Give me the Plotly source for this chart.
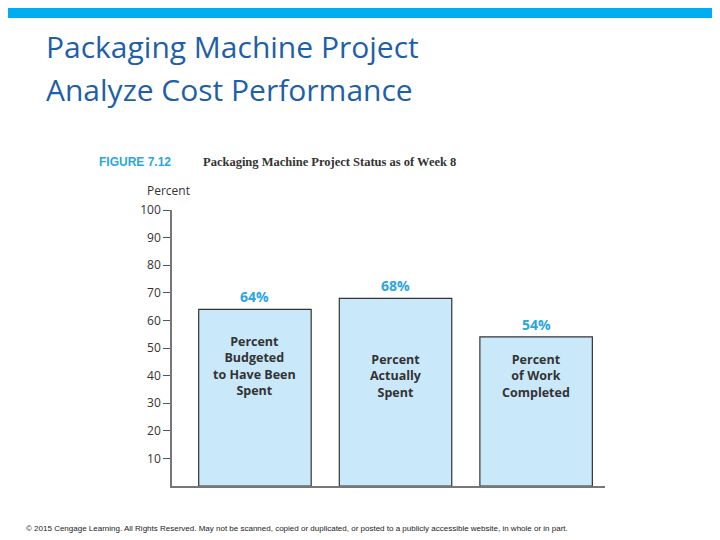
import plotly.graph_objects as go

categories = ["Percent<br>Budgeted<br>to Have Been<br>Spent", "Percent<br>Actually<br>Spent", "Percent<br>of Work<br>Completed"]
values = [64, 68, 54]
value_labels = ["64%", "68%", "54%"]
inner_label_y = [43.5, 40, 40]
tick_vals = [10, 20, 30, 40, 50, 60, 70, 80, 90, 100]

x = [0, 1, 2]
O = 8  # page offset
L, R, T, B = 172 - O, 115 + O, 210 - O, 54 + O
PW, PH = 720 - L - R, 540 - T - B
def px(p): return (p - O - L) / PW
def py(p): return (540 - B - (p - O)) / PH

fig = go.Figure(go.Bar(x=x, y=values, width=0.8,
                       marker=dict(color="#c9e8fa", line=dict(color="#333333", width=1.2)),
                       hoverinfo="skip"))
ann = []
for xi, v, lab, c, iy in zip(x, values, value_labels, categories, inner_label_y):
    ann.append(dict(x=xi, y=v + 4.5, text="<b>%s</b>" % lab, showarrow=False,
                    font=dict(family="Open Sans", size=14, color="#2aa6df")))
    ann.append(dict(x=xi, y=iy, text="<b>%s</b>" % c, showarrow=False,
                    font=dict(family="Open Sans", size=12.5, color="#333333")))
ann += [
    dict(xref="paper", yref="paper", x=px(44), y=py(46), xanchor="left", yanchor="middle",
         text="Packaging Machine Project", showarrow=False,
         font=dict(family="Open Sans", size=30, color="#1f5fa8")),
    dict(xref="paper", yref="paper", x=px(44), y=py(89), xanchor="left", yanchor="middle",
         text="Analyze Cost Performance", showarrow=False,
         font=dict(family="Open Sans", size=30, color="#1f5fa8")),
    dict(xref="paper", yref="paper", x=px(97), y=py(162), xanchor="left", yanchor="middle",
         text="<b>FIGURE 7.12</b>", showarrow=False,
         font=dict(family="Arial", size=12, color="#2aa6df")),
    dict(xref="paper", yref="paper", x=px(201), y=py(162), xanchor="left", yanchor="middle",
         text="<b>Packaging Machine Project Status as of Week 8</b>", showarrow=False,
         font=dict(family="Liberation Serif", size=12.5, color="#333333")),
    dict(xref="paper", yref="paper", x=px(192), y=py(191), xanchor="right", yanchor="middle",
         text="Percent", showarrow=False,
         font=dict(family="Open Sans", size=12, color="#333333")),
    dict(xref="paper", yref="paper", x=px(24), y=py(528), xanchor="left", yanchor="middle",
         text="© 2015 Cengage Learning. All Rights Reserved. May not be scanned, copied or duplicated, or posted to a publicly accessible website, in whole or in part.",
         showarrow=False, font=dict(family="Arial", size=8, color="#222222")),
]
fig.update_layout(
    width=720, height=540, autosize=False,
    margin=dict(l=L, r=R, t=T, b=B),
    paper_bgcolor="white", plot_bgcolor="white", showlegend=False,
    annotations=ann,
    shapes=[dict(type="rect", xref="paper", yref="paper", x0=px(0), x1=px(740), y0=py(18), y1=py(-10),
                 fillcolor="#00aeef", line=dict(width=0), layer="below")],
    xaxis=dict(range=[-0.59, 2.49], showticklabels=False, ticks="", showgrid=False, zeroline=False,
               showline=True, linecolor="#777777", linewidth=1.5),
    yaxis=dict(range=[0, 100], tickvals=tick_vals, ticks="outside", ticklen=7, tickcolor="#555555",
               showgrid=False, zeroline=False, showline=True, linecolor="#777777", linewidth=1.5,
               tickfont=dict(family="Open Sans", size=12, color="#333333")),
)
fig.write_html("out.html")
